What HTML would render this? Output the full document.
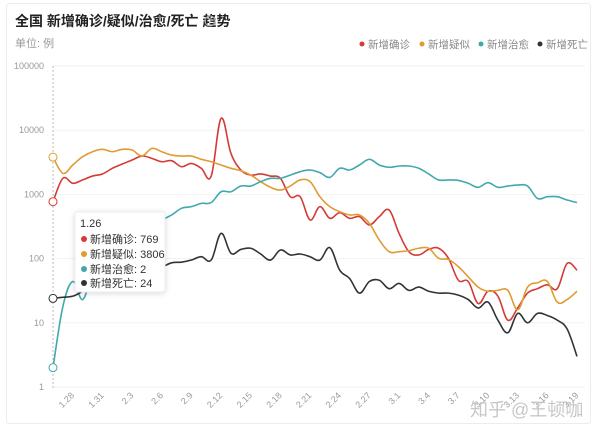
<!DOCTYPE html>
<html><head><meta charset="utf-8"><style>
html,body{margin:0;padding:0;background:#fff;}
body{width:600px;height:433px;overflow:hidden;font-family:"Liberation Sans","Noto Sans CJK SC",sans-serif;}
</style></head><body>
<svg id="chart" width="600" height="433" viewBox="0 0 600 433" xmlns="http://www.w3.org/2000/svg" font-family="Liberation Sans, Noto Sans CJK SC, sans-serif">
<rect x="6.5" y="3.5" width="584" height="420" rx="3" fill="#fff" stroke="#ececec"/>
<text x="15" y="26" font-size="14" font-weight="bold" fill="#222">全国 新增确诊/疑似/治愈/死亡 趋势</text>
<g><circle cx="210" cy="21" r="5" fill="none" stroke="#aaa"/><text x="210" y="24" font-size="8" fill="#aaa" text-anchor="middle">?</text></g>
<text x="15" y="47" font-size="11" fill="#999">单位: 例</text>
<g id="legend" font-size="10.5" fill="#888"></g>
<g id="grid"></g>
<line x1="53" y1="66" x2="53" y2="390" stroke="#bbb" stroke-dasharray="2,2"/>
<g id="series"></g>
<g id="xlabels" font-size="9" fill="#999"></g>
<g>
<rect x="75" y="212" width="90" height="80" rx="3" fill="#fff" stroke="#eee" style="filter:drop-shadow(0 1px 3px rgba(0,0,0,0.15))"/>
<text x="80" y="227" font-size="11" fill="#333">1.26</text>
<circle cx="84" cy="239" r="3" fill="#d43a36"/><text x="90" y="243" font-size="11" fill="#333">新增确诊: 769</text>
<circle cx="84" cy="254" r="3" fill="#e09b32"/><text x="90" y="258" font-size="11" fill="#333">新增疑似: 3806</text>
<circle cx="84" cy="269" r="3" fill="#40a9ae"/><text x="90" y="273" font-size="11" fill="#333">新增治愈: 2</text>
<circle cx="84" cy="283" r="3" fill="#333"/><text x="90" y="287" font-size="11" fill="#333">新增死亡: 24</text>
</g>
<text x="470" y="416" font-size="18" fill="#c8c8c8">知乎 @王顿咖</text>
</svg>
<script>
const categories=["1.26","1.27","1.28","1.29","1.30","1.31","2.1","2.2","2.3","2.4","2.5","2.6","2.7","2.8","2.9","2.10","2.11","2.12","2.13","2.14","2.15","2.16","2.17","2.18","2.19","2.20","2.21","2.22","2.23","2.24","2.25","2.26","2.27","2.28","2.29","3.1","3.2","3.3","3.4","3.5","3.6","3.7","3.8","3.9","3.10","3.11","3.12","3.13","3.14","3.15","3.16","3.17","3.18","3.19"];
const confirmed=[769,1780,1490,1680,1930,2080,2550,2970,3430,3960,3640,3230,3350,2700,3040,2550,1930,15280,4350,2400,2000,2080,1930,1780,920,920,400,645,424,519,424,450,334,450,571,247,128,114,139,145,101,46,44,20,31,26,11,17,29,34,39,34,84,66];
const suspected=[3806,2130,2870,3870,4620,5030,4620,5030,4910,3960,5210,4620,4100,3960,3960,3520,3230,2870,2550,2340,2000,1580,1290,1170,1350,1680,1580,920,645,538,478,478,354,195,128,128,133,145,145,101,97,75,52,36,31,32,32,16,36,42,44,21,23,31];
const cured=[2,18,44,23,60,100,150,200,250,300,350,400,478,607,645,725,745,1100,1100,1350,1350,1580,1780,1780,2000,2260,2400,2180,1840,2550,2400,2870,3520,2870,2640,2770,2770,2550,2080,1680,1680,1650,1490,1290,1520,1290,1350,1400,1350,867,920,920,817,745];
const deaths=[24,25,26,31,38,45,52,56,60,64,70,74,86,88,95,107,95,247,121,139,145,118,95,136,114,118,107,95,148,66,49,29,44,46,34,41,32,36,31,29,29,27,23,17,21,11,7,14,10,14,13,11,8,3];
const yTicks=[1,10,100,1000,10000,100000];
const xTickLabels=["1.28","1.31","2.3","2.6","2.9","2.12","2.15","2.18","2.21","2.24","2.27","3.1","3.4","3.7","3.10","3.13","3.16","3.19"];
const seriesNames=["新增确诊","新增疑似","新增治愈","新增死亡"];
const colors=["#d43a36","#e09b32","#40a9ae","#333333"];
const NS="http://www.w3.org/2000/svg";
const X0=53,X1=577,Y1=387,Y0=66;
function xS(i){return X0+(X1-X0)*i/(categories.length-1);}
function yS(v){return Y1-(Y1-Y0)*Math.log10(v)/5;}
function mk(tag,attrs,parent){const e=document.createElementNS(NS,tag);for(const k in attrs)e.setAttribute(k,attrs[k]);parent.appendChild(e);return e;}
const grid=document.getElementById('grid');
yTicks.forEach(t=>{
  const l=mk('line',{x1:X0,x2:585,y1:yS(t),y2:yS(t),stroke:'#f2f2f2'},grid);
  
  
  const tx=mk('text',{x:44,y:yS(t)+3,'font-size':9,fill:'#999','text-anchor':'end'},grid);
  
  
  tx.textContent=t;
});
const xl=document.getElementById('xlabels');
xTickLabels.forEach(lab=>{
  const i=categories.indexOf(lab);const x=xS(i)+2,y=396;
  const t=mk('text',{x:x,y:y,'text-anchor':'end',transform:`rotate(-45 ${x} ${y})`},xl);
  
  
  t.textContent=lab;
});
function path(vals){
  const p=vals.map((v,i)=>[xS(i),yS(v)]);
  let d=`M${p[0][0]},${p[0][1]}`;
  for(let i=0;i<p.length-1;i++){
    const a=p[Math.max(0,i-1)],b=p[i],c=p[i+1],e=p[Math.min(p.length-1,i+2)];
    const s=0.18;
    d+=`C${b[0]+(c[0]-a[0])*s},${b[1]+(c[1]-a[1])*s} ${c[0]-(e[0]-b[0])*s},${c[1]-(e[1]-b[1])*s} ${c[0]},${c[1]}`;
  }
  return d;
}
const sg=document.getElementById('series');
const allSeries=[confirmed,suspected,cured,deaths];
const lineNames=['confirmed-line','suspected-line','cured-line','deaths-line'];
allSeries.forEach((vals,k)=>{
  const p=mk('path',{d:path(vals),fill:'none',stroke:colors[k],'stroke-width':1.6},sg);
  
  
  const c=mk('circle',{cx:xS(0),cy:yS(vals[0]),r:4,fill:'#fff',stroke:colors[k],'stroke-width':1},sg);
  
  
});
const lg=document.getElementById('legend');
const lx=[362,422,481,540];
seriesNames.forEach((n,k)=>{
  const g=mk('g',{},lg);
  
  
  mk('circle',{cx:lx[k],cy:44,r:2.5,fill:colors[k]},g);
  const t=mk('text',{x:lx[k]+6,y:48},g);t.textContent=n;
});
</script>
</body></html>
